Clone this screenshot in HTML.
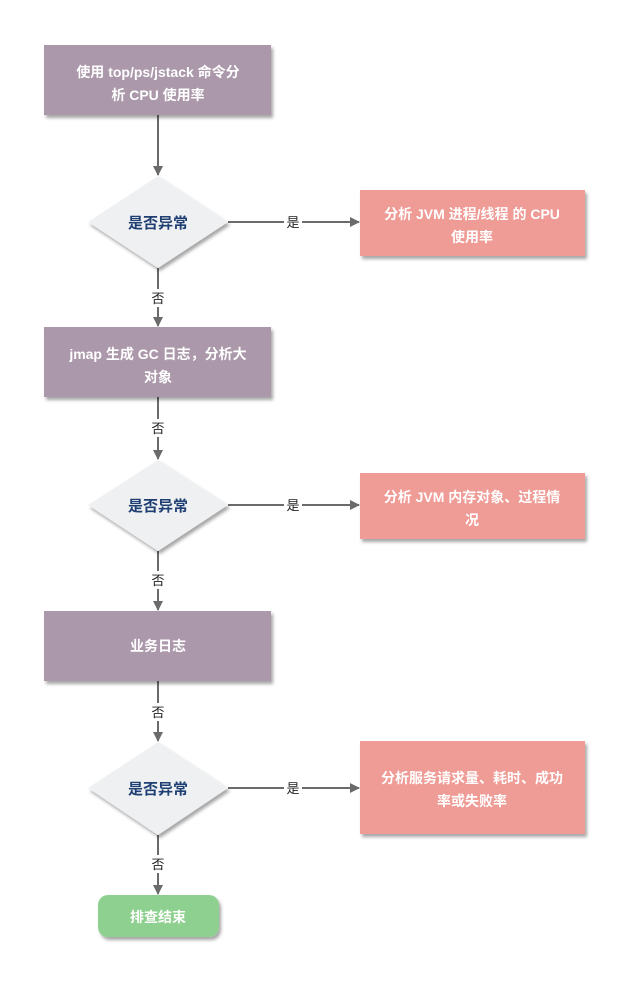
<!DOCTYPE html>
<html><head><meta charset="utf-8"><style>
html,body{margin:0;padding:0;background:#fff;}
svg{display:block;}
text{font-family:"Liberation Sans","Noto Sans CJK SC",sans-serif;}
.w{fill:#fff;font-size:14px;font-weight:bold;text-anchor:middle;}
.d{fill:#1f3f73;font-size:15px;font-weight:bold;text-anchor:middle;}
.l{fill:#222;font-size:13px;text-anchor:middle;}
</style></head><body>
<svg width="632" height="982" viewBox="0 0 632 982" xmlns="http://www.w3.org/2000/svg">
<defs>
<filter id="sh" x="-10%" y="-10%" width="130%" height="140%"><feDropShadow dx="2" dy="3" stdDeviation="1.5" flood-color="#000" flood-opacity="0.35"/></filter>
<marker id="ar" markerWidth="10" markerHeight="10" refX="9" refY="5" orient="auto" markerUnits="userSpaceOnUse"><path d="M0,0 L10,5 L0,10 z" fill="#6b6b6b"/></marker>
</defs>
<g stroke="#6b6b6b" stroke-width="2" fill="none">
<line x1="158" y1="115" x2="158" y2="175" marker-end="url(#ar)"/>
<line x1="158" y1="268" x2="158" y2="289"/><line x1="158" y1="307" x2="158" y2="326" marker-end="url(#ar)"/>
<line x1="228" y1="222" x2="284" y2="222"/><line x1="302" y1="222" x2="359" y2="222" marker-end="url(#ar)"/>
<line x1="158" y1="397" x2="158" y2="419"/><line x1="158" y1="437" x2="158" y2="459" marker-end="url(#ar)"/>
<line x1="228" y1="505" x2="284" y2="505"/><line x1="302" y1="505" x2="359" y2="505" marker-end="url(#ar)"/>
<line x1="158" y1="551" x2="158" y2="571"/><line x1="158" y1="589" x2="158" y2="610" marker-end="url(#ar)"/>
<line x1="158" y1="681" x2="158" y2="703"/><line x1="158" y1="721" x2="158" y2="741" marker-end="url(#ar)"/>
<line x1="228" y1="788" x2="284" y2="788"/><line x1="302" y1="788" x2="359" y2="788" marker-end="url(#ar)"/>
<line x1="158" y1="835" x2="158" y2="855"/><line x1="158" y1="873" x2="158" y2="894" marker-end="url(#ar)"/>
</g>
<g filter="url(#sh)">
<rect x="44" y="45" width="227" height="70" fill="#ab98aa"/>
<polygon points="158,176 228,222 158,268 88,222" fill="#eff0f2"/>
<rect x="360" y="190" width="225" height="66" fill="#ef9b96"/>
<rect x="44" y="327" width="227" height="70" fill="#ab98aa"/>
<polygon points="158,460 228,505 158,551 88,505" fill="#eff0f2"/>
<rect x="360" y="473" width="225" height="66" fill="#ef9b96"/>
<rect x="44" y="611" width="227" height="70" fill="#ab98aa"/>
<polygon points="158,742 228,788 158,835 88,788" fill="#eff0f2"/>
<rect x="360" y="741" width="225" height="93" fill="#ef9b96"/>
<rect x="98" y="895" width="121" height="42" rx="10" fill="#8ed08f"/>
</g>
<text class="w" x="158" y="77">使用 top/ps/jstack 命令分</text>
<text class="w" x="158" y="100">析 CPU 使用率</text>
<text class="d" x="158" y="228">是否异常</text>
<text class="w" x="472" y="219">分析 JVM 进程/线程 的 CPU</text>
<text class="w" x="472" y="242">使用率</text>
<text class="l" x="293" y="227">是</text>
<text class="l" x="158" y="303">否</text>
<text class="w" x="158" y="359">jmap 生成 GC 日志，分析大</text>
<text class="w" x="158" y="382">对象</text>
<text class="l" x="158" y="433">否</text>
<text class="d" x="158" y="511">是否异常</text>
<text class="w" x="472" y="502">分析 JVM 内存对象、过程情</text>
<text class="w" x="472" y="525">况</text>
<text class="l" x="293" y="510">是</text>
<text class="l" x="158" y="585">否</text>
<text class="w" x="158" y="651">业务日志</text>
<text class="l" x="158" y="717">否</text>
<text class="d" x="158" y="794">是否异常</text>
<text class="w" x="472" y="783">分析服务请求量、耗时、成功</text>
<text class="w" x="472" y="806">率或失败率</text>
<text class="l" x="293" y="793">是</text>
<text class="l" x="158" y="869">否</text>
<text class="w" x="158" y="922">排查结束</text>
</svg>
</body></html>
